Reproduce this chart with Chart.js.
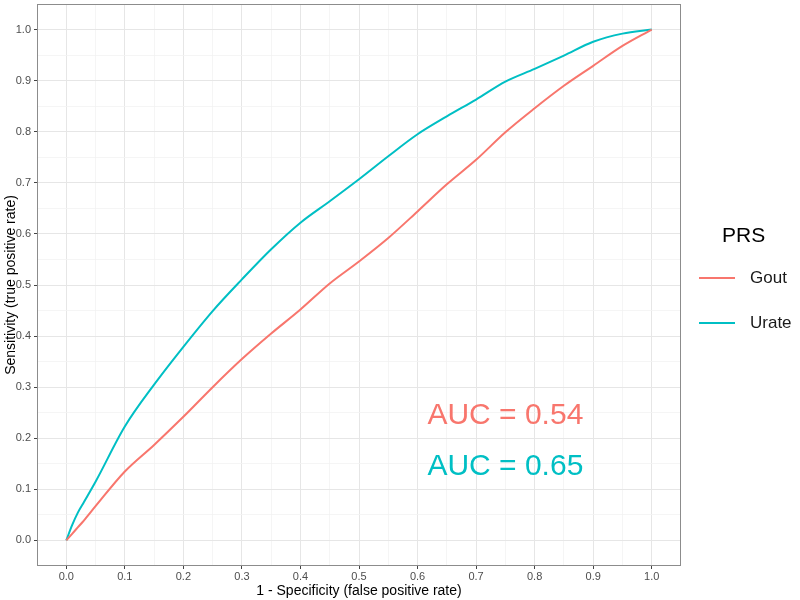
<!DOCTYPE html>
<html>
<head>
<meta charset="utf-8">
<title>ROC curves</title>
<script src="https://cdn.jsdelivr.net/npm/chart.js@4.4.1/dist/chart.umd.min.js"></script>
<style>
  html, body { margin: 0; padding: 0; background: #ffffff; }
  #roc { display: block; }
</style>
</head>
<body>
<canvas id="roc" width="800" height="600"></canvas>
<script>
// ----- Data -----
const fpr = [0, 0.01, 0.02, 0.03, 0.05, 0.1, 0.15, 0.2, 0.25, 0.3, 0.35, 0.4, 0.45, 0.5,
             0.55, 0.6, 0.65, 0.7, 0.75, 0.8, 0.85, 0.9, 0.95, 1.0];
const goutTpr = [0, 0.013, 0.026, 0.039, 0.067, 0.135, 0.187, 0.242, 0.300, 0.355, 0.405, 0.452, 0.503, 0.546,
                 0.592, 0.644, 0.697, 0.745, 0.799, 0.846, 0.890, 0.929, 0.968, 1.0];
const urateTpr = [0, 0.030, 0.055, 0.075, 0.115, 0.223, 0.305, 0.379, 0.449, 0.511, 0.570, 0.622, 0.664, 0.707,
                  0.752, 0.795, 0.830, 0.863, 0.898, 0.923, 0.949, 0.976, 0.992, 1.0];

const seriesNames = ['Gout', 'Urate'];
const seriesColors = ['#F8766D', '#00BFC4'];
const aucLabels = ['AUC = 0.54', 'AUC = 0.65'];
const aucPos = [[0.75, 0.25], [0.75, 0.15]];

// grid positions (major every 0.1, minor in between)
const gridTicks = [0, 0.05, 0.1, 0.15, 0.2, 0.25, 0.3, 0.35, 0.4, 0.45, 0.5,
                   0.55, 0.6, 0.65, 0.7, 0.75, 0.8, 0.85, 0.9, 0.95, 1.0];

const FONT = "'Liberation Sans', Arial, Helvetica, sans-serif";

function isMajor(v) {
    return Math.abs(v * 10 - Math.round(v * 10)) < 1e-6;
}

function toPoints(xs, ys) {
    return xs.map((x, i) => ({ x: x, y: ys[i] }));
}

// ----- Scale options (ggplot theme_bw look) -----
function axisOptions(title, isY) {
    return {
        type: 'linear',
        min: -0.05,
        max: 1.05,
        afterBuildTicks: (scale) => {
            scale.ticks = gridTicks.map(v => ({ value: v }));
        },
        afterFit: (scale) => {
            if (isY) scale.width = 37;
            else scale.height = 34;
            // no extra margin for overhanging tick labels
            scale.paddingTop = 0;
            scale.paddingBottom = 0;
            scale.paddingLeft = 0;
            scale.paddingRight = 0;
        },
        border: { display: false },
        grid: {
            color: (c) => (c.tick && isMajor(c.tick.value)) ? '#e6e6e6' : '#f3f3f3',
            lineWidth: (c) => (c.tick && isMajor(c.tick.value)) ? 1 : 0.8,
            tickColor: (c) => (c.tick && isMajor(c.tick.value)) ? '#444444' : 'rgba(0,0,0,0)',
            tickLength: 3,
            drawTicks: true,
        },
        ticks: {
            autoSkip: false,
            maxRotation: 0,
            padding: isY ? 3 : 1,
            color: '#4d4d4d',
            font: { family: FONT, size: 11 },
            callback: (v) => isMajor(v) ? v.toFixed(1) : '',
        },
        title: {
            display: true,
            text: title,
            color: '#000000',
            font: { family: FONT, size: 14 },
            padding: isY ? { top: 3, bottom: 0 } : { top: 0, bottom: 0 },
        },
    };
}

// ----- Panel border, AUC text and legend -----
const extrasPlugin = {
    id: 'extras',
    afterDraw(chart) {
        const { ctx, chartArea, scales } = chart;
        ctx.save();

        // panel border
        ctx.strokeStyle = '#8c8c8c';
        ctx.lineWidth = 1;
        ctx.strokeRect(chartArea.left + 0.5, chartArea.top + 0.5,
                       chartArea.right - chartArea.left - 1, chartArea.bottom - chartArea.top - 1);

        // AUC annotations
        ctx.font = `30px ${FONT}`;
        ctx.textAlign = 'center';
        ctx.textBaseline = 'alphabetic';
        aucLabels.forEach((label, i) => {
            const px = scales.x.getPixelForValue(aucPos[i][0]);
            const py = scales.y.getPixelForValue(aucPos[i][1]);
            ctx.fillStyle = seriesColors[i];
            ctx.fillText(label, px, py + 11);
        });

        // legend
        ctx.textAlign = 'left';
        ctx.textBaseline = 'middle';
        ctx.fillStyle = '#000000';
        ctx.font = `21px ${FONT}`;
        ctx.fillText('PRS', 722, 236);
        ctx.font = `17px ${FONT}`;
        seriesNames.forEach((name, i) => {
            const y = 278 + i * 45;
            ctx.strokeStyle = seriesColors[i];
            ctx.lineWidth = 2;
            ctx.beginPath();
            ctx.moveTo(699, y);
            ctx.lineTo(735, y);
            ctx.stroke();
            ctx.fillStyle = '#1a1a1a';
            ctx.fillText(name, 750, y);
        });

        ctx.restore();
    }
};

// ----- Chart -----
const ctx = document.getElementById('roc').getContext('2d');
const chart = new Chart(ctx, {
    type: 'line',
    data: {
        datasets: [
            {
                label: seriesNames[0],
                data: toPoints(fpr, goutTpr),
                borderColor: seriesColors[0],
                borderWidth: 2,
                pointRadius: 0,
                cubicInterpolationMode: 'monotone',
                fill: false,
            },
            {
                label: seriesNames[1],
                data: toPoints(fpr, urateTpr),
                borderColor: seriesColors[1],
                borderWidth: 2,
                pointRadius: 0,
                cubicInterpolationMode: 'monotone',
                fill: false,
            },
        ]
    },
    options: {
        responsive: false,
        animation: false,
        layout: { padding: { top: 4, right: 119, left: 0, bottom: 0 } },
        plugins: {
            legend: { display: false },
            tooltip: { enabled: false },
        },
        scales: {
            x: axisOptions('1 - Specificity (false positive rate)', false),
            y: axisOptions('Sensitivity (true positive rate)', true),
        },
    },
    plugins: [extrasPlugin],
});
</script>
</body>
</html>
